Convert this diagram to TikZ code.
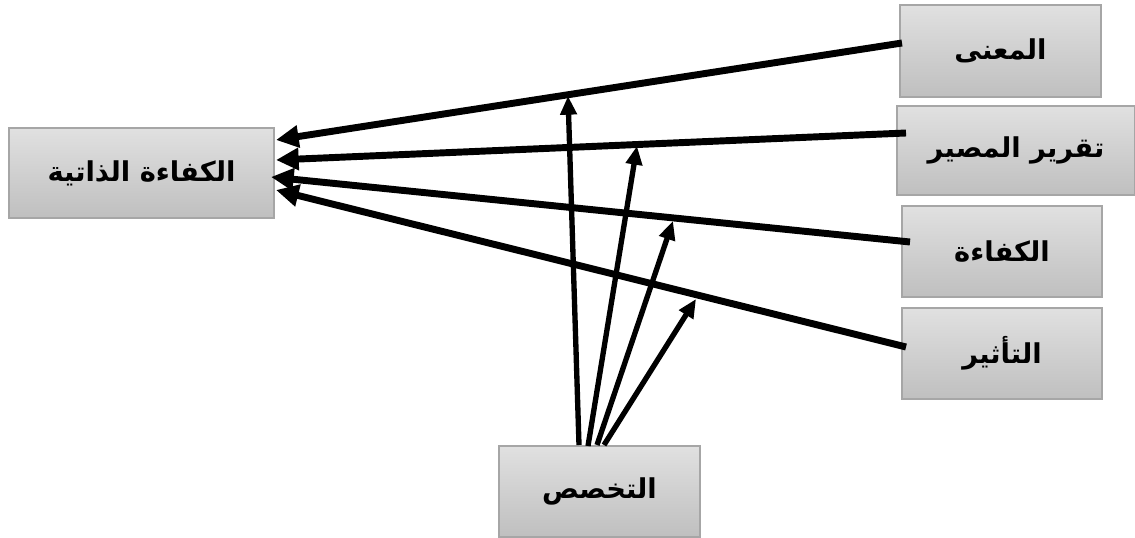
\documentclass[tikz,border=0pt]{standalone}
\usepackage{fontspec}
\usetikzlibrary{arrows.meta}
\TeXXeTstate=1
\newfontfamily\arabicfont[Script=Arabic]{DejaVu Sans}
\begin{document}
\begin{tikzpicture}[x=0.75pt,y=-0.75pt,
  box/.style={draw=black!35, line width=0.9pt, top color=black!12, bottom color=black!25,
    inner sep=0pt, font=\arabicfont\bfseries\fontsize{20.5}{24}\selectfont},
  mainline/.style={line width=5.2pt, -{Triangle[length=17pt,width=16pt]}},
  subline/.style={line width=4pt, -{Triangle[length=14pt,width=12pt]}}]
\useasboundingbox (0,0) rectangle (1135,538);
\node[box, minimum width=198.75pt, minimum height=67.5pt] (self) at (141.5,173) {\beginR الكفاءة الذاتية\endR};
\node[box, minimum width=150.75pt, minimum height=69pt] (m) at (1000.5,51) {\beginR المعنى\endR};
\node[box, minimum width=178.5pt, minimum height=66.75pt] (t) at (1016,150.5) {\beginR تقرير المصير\endR};
\node[box, minimum width=150pt, minimum height=68.25pt] (k) at (1002,251.5) {\beginR الكفاءة\endR};
\node[box, minimum width=150pt, minimum height=68.25pt] (a) at (1002,353.5) {\beginR التأثير\endR};
\node[box, minimum width=150.75pt, minimum height=68.25pt] (s) at (599.5,491.5) {\beginR التخصص\endR};
% end points
\coordinate (m1) at (902,43);
\coordinate (t1) at (906,133);
\coordinate (k1) at (910,242);
\coordinate (a1) at (906,347);
\coordinate (e1) at (276,140);
\coordinate (e2) at (276,160);
\coordinate (e3) at (271,177);
\coordinate (e4) at (276,190);
\coordinate (s1) at (579,445);
\coordinate (s2) at (588,446);
\coordinate (s3) at (597,445);
\coordinate (s4) at (604,445);
\coordinate (p1) at (568,96);
\coordinate (p2) at (637,146);
\coordinate (p3) at (673,221);
\coordinate (p4) at (696,299);
\draw[mainline] (m1) -- (e1);
\draw[mainline] (t1) -- (e2);
\draw[mainline] (k1) -- (e3);
\draw[mainline] (a1) -- (e4);
\draw[subline] (s1) -- (p1);
\draw[subline] (s2) -- (p2);
\draw[subline] (s3) -- (p3);
\draw[subline] (s4) -- (p4);
\end{tikzpicture}
\end{document}
